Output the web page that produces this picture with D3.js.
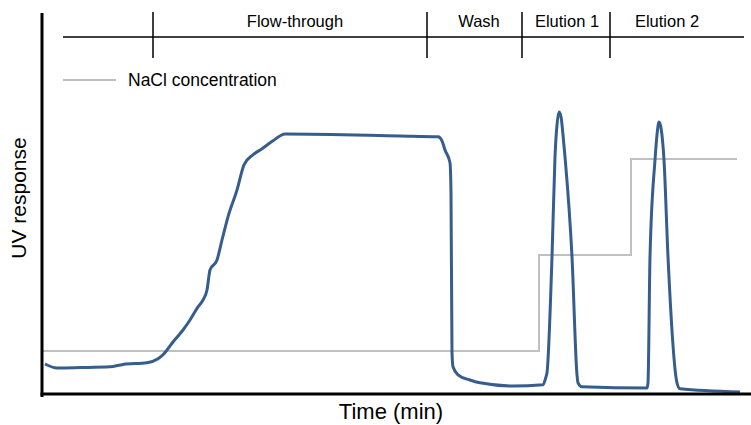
<!DOCTYPE html>
<html>
<head>
<meta charset="utf-8">
<script src="https://cdn.jsdelivr.net/npm/d3@7"></script>
<style>
    body { margin: 0; background: #fff; }
    svg text { font-family: "Liberation Sans", Arial, sans-serif; fill: #000; }
</style>
</head>
<body>
<svg id="chart" width="751" height="425"></svg>
<script>
// UV trace, time (min) vs response
const uvTime = [0.3, 1.5, 3.8, 6.8, 8.1, 10.5, 11.6, 12.1, 12.5, 13.1, 14.1, 14.8, 15.6, 16.1, 16.5, 16.8, 17.5, 18.0, 18.6, 19.5,
    20.2, 21.1, 22.0, 23.1, 24.3, 35.8, 39.6, 40.0, 40.3, 40.8, 40.9, 41.0, 41.1, 41.6, 42.8, 43.8, 47.1, 50.1, 50.4, 50.5,
    51.0, 51.3, 51.5, 51.7, 51.9, 52.1, 52.3, 53.0, 53.5, 53.6, 54.0, 60.5, 60.6, 60.8, 61.3, 61.5, 61.7, 61.9, 62.2, 62.6,
    63.5, 63.8, 69.8];
const uvValue = [7.5, 6.5, 6.6, 6.8, 7.4, 7.8, 8.8, 9.8, 11, 13, 16, 18.5, 21.8, 23.5, 26, 31, 33.5, 38.5, 44.3, 51,
    57.3, 59.8, 61.3, 63.3, 65, 64.5, 64.3, 63.3, 61, 57.8, 50.3, 10.3, 6.8, 4.8, 3.5, 2.8, 2, 2.3, 4.3, 5.3,
    34.3, 59.3, 67.3, 70.5, 69.3, 64.8, 59.3, 34.3, 4.8, 2.8, 1.8, 1.5, 2.8, 34.3, 58.5, 64.8, 68, 66.5, 58.5, 34.3,
    2.8, 1.3, 0.5];

// NaCl step gradient
const saltTime = [0, 49.7, 58.9, 69.5];
const saltValue = [10.75, 34.75, 58.75, 58.75];

// run phases
const phaseNames = ['Flow-through', 'Wash', 'Elution 1', 'Elution 2'];
const phaseStart = [11.1, 38.5, 48.0, 56.8];
const phaseLabelTime = [25.3, 43.7, 52.5, 62.5];
const phaseLineStart = 2.1;
const phaseLineEnd = 70.2;

const svg = d3.select('#chart');
const width = +svg.attr('width');

const x = d3.scaleLinear().domain([0, 70.9]).range([42, 751]);
const y = d3.scaleLinear().domain([0, 95]).range([394, 14]);

const uvData = uvTime.map((t, i) => ({ t, v: uvValue[i] }));
const saltData = saltTime.map((t, i) => ({ t, v: saltValue[i] }));

// salt line
svg.append('path')
    .datum(saltData)
    .attr('fill', 'none')
    .attr('stroke', '#c0c0c0')
    .attr('stroke-width', 2)
    .attr('d', d3.line().x(d => x(d.t)).y(d => y(d.v)).curve(d3.curveStepAfter));

// UV line
svg.append('path')
    .datum(uvData)
    .attr('fill', 'none')
    .attr('stroke', '#365d8d')
    .attr('stroke-width', 3)
    .attr('stroke-linejoin', 'round')
    .attr('d', d3.line().x(d => x(d.t)).y(d => y(d.v)).curve(d3.curveMonotoneX));

// axes (no ticks)
svg.append('line')
    .attr('x1', x(0)).attr('x2', x(0))
    .attr('y1', 13).attr('y2', 397)
    .attr('stroke', '#000').attr('stroke-width', 3);
svg.append('line')
    .attr('x1', x(0) - 1.5).attr('x2', width)
    .attr('y1', y(0)).attr('y2', y(0))
    .attr('stroke', '#000').attr('stroke-width', 3);

// phase bar
const phaseY = 37;
svg.append('line')
    .attr('x1', x(phaseLineStart)).attr('x2', x(phaseLineEnd))
    .attr('y1', phaseY).attr('y2', phaseY)
    .attr('stroke', '#000').attr('stroke-width', 1.5);

svg.selectAll('.phase-tick')
    .data(phaseStart)
    .enter()
    .append('line')
    .attr('class', 'phase-tick')
    .attr('x1', d => x(d)).attr('x2', d => x(d))
    .attr('y1', 12).attr('y2', 58)
    .attr('stroke', '#000').attr('stroke-width', 1.5);

svg.selectAll('.phase-label')
    .data(phaseNames)
    .enter()
    .append('text')
    .attr('class', 'phase-label')
    .attr('x', (d, i) => x(phaseLabelTime[i]))
    .attr('y', 27)
    .attr('text-anchor', 'middle')
    .style('font-size', '16.5px')
    .text(d => d);

// legend
svg.append('line')
    .attr('x1', 63).attr('x2', 116)
    .attr('y1', 80).attr('y2', 80)
    .attr('stroke', '#c0c0c0').attr('stroke-width', 2);
svg.append('text')
    .attr('x', 128).attr('y', 86)
    .style('font-size', '17.5px')
    .text('NaCl concentration');

// axis titles
svg.append('text')
    .attr('x', 391).attr('y', 419)
    .attr('text-anchor', 'middle')
    .style('font-size', '22px')
    .text('Time (min)');
svg.append('text')
    .attr('transform', 'translate(26,198) rotate(-90)')
    .attr('text-anchor', 'middle')
    .style('font-size', '21px')
    .text('UV response');
</script>
</body>
</html>
